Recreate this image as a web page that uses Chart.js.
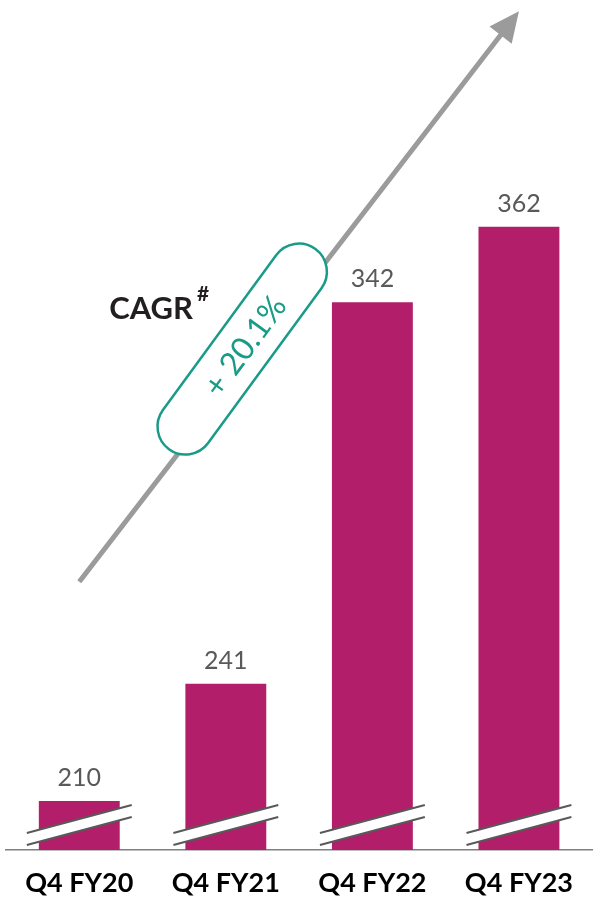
<!DOCTYPE html>
<html>
<head>
<meta charset="utf-8">
<script src="https://cdn.jsdelivr.net/npm/chart.js@4/dist/chart.umd.min.js"></script>
<style>
  html, body { margin: 0; padding: 0; background: #fff; }
  #wrap { width: 593px; height: 897px; position: relative; }
</style>
</head>
<body>
<div id="wrap"><canvas id="chart"></canvas></div>
<script>
const QUARTERS = ['Q4 FY20', 'Q4 FY21', 'Q4 FY22', 'Q4 FY23'];
const VALUES = [210, 241, 342, 362];
// axis is broken below the bars, so it does not start at zero
const AXIS_MIN = 197;
const AXIS_MAX = 422;
// trend arrow runs from the first to the last category, in axis units
const TREND_FROM = 268;
const TREND_TO = 419;
const CAGR_TEXT = 'CAGR';
const CAGR_MARK = '#';
const CAGR_VALUE = '+ 20.1%';

const BAR = '#B31E6B';
const LABEL_GREY = '#595959';
const TEAL = '#1A9B88';
const ARROW_GREY = '#9B9B9B';

Chart.defaults.font.family = 'Lato, "Open Sans", sans-serif';

// white slash across the bottom of every bar to show the axis break
const breakMarks = {
  id: 'breakMarks',
  afterDatasetsDraw(chart) {
    const { ctx, chartArea } = chart;
    const base = chartArea.bottom;
    const slope = -28 / 105;
    chart.getDatasetMeta(0).data.forEach((bar) => {
      const half = bar.width / 2 + 12;
      const xl = bar.x - half;
      const xr = bar.x + half;
      const upper = (x) => base - 31 + (x - bar.x) * slope;
      const lower = (x) => upper(x) + 12;
      ctx.save();
      ctx.fillStyle = '#fff';
      ctx.beginPath();
      ctx.moveTo(xl, upper(xl));
      ctx.lineTo(xr, upper(xr));
      ctx.lineTo(xr, lower(xr));
      ctx.lineTo(xl, lower(xl));
      ctx.closePath();
      ctx.fill();
      ctx.strokeStyle = LABEL_GREY;
      ctx.lineWidth = 2;
      ctx.beginPath();
      ctx.moveTo(xl, upper(xl));
      ctx.lineTo(xr, upper(xr));
      ctx.moveTo(xl, lower(xl));
      ctx.lineTo(xr, lower(xr));
      ctx.stroke();
      ctx.restore();
    });
  }
};

const valueLabels = {
  id: 'valueLabels',
  afterDatasetsDraw(chart) {
    const { ctx } = chart;
    const ds = chart.data.datasets[0];
    ctx.save();
    ctx.font = '25px Lato, "Open Sans", sans-serif';
    ctx.fillStyle = LABEL_GREY;
    ctx.textAlign = 'center';
    ctx.textBaseline = 'alphabetic';
    chart.getDatasetMeta(0).data.forEach((bar, i) => {
      ctx.fillText(String(ds.data[i]), bar.x, bar.y - 15);
    });
    ctx.restore();
  }
};

// growth arrow with the CAGR pill on top of it
const trendArrow = {
  id: 'trendArrow',
  afterDraw(chart) {
    const { ctx } = chart;
    const xs = chart.scales.x;
    const ys = chart.scales.y;
    const x0 = xs.getPixelForValue(0);
    const y0 = ys.getPixelForValue(TREND_FROM);
    const x1 = xs.getPixelForValue(QUARTERS.length - 1);
    const y1 = ys.getPixelForValue(TREND_TO);
    const len = Math.hypot(x1 - x0, y1 - y0);
    const ux = (x1 - x0) / len;
    const uy = (y1 - y0) / len;
    const angle = Math.atan2(y1 - y0, x1 - x0);
    const head = 30;
    const headHalf = 14;

    ctx.save();
    ctx.strokeStyle = ARROW_GREY;
    ctx.fillStyle = ARROW_GREY;
    ctx.lineWidth = 5;
    ctx.beginPath();
    ctx.moveTo(x0, y0);
    ctx.lineTo(x1 - ux * (head - 2), y1 - uy * (head - 2));
    ctx.stroke();
    const bx = x1 - ux * head;
    const by = y1 - uy * head;
    ctx.beginPath();
    ctx.moveTo(x1, y1);
    ctx.lineTo(bx + uy * headHalf, by - ux * headHalf);
    ctx.lineTo(bx - uy * headHalf, by + ux * headHalf);
    ctx.closePath();
    ctx.fill();

    // pill sits a little above-left of the arrow line
    const t = 0.394;
    const off = 13;
    const cx = x0 + (x1 - x0) * t + uy * off;
    const cy = y0 + (y1 - y0) * t - ux * off;
    const L = 248;
    const W = 56;
    ctx.translate(cx, cy);
    ctx.rotate(angle - 0.025);
    ctx.beginPath();
    ctx.roundRect(-L / 2, -W / 2, L, W, W / 2);
    ctx.fillStyle = '#fff';
    ctx.fill();
    ctx.strokeStyle = TEAL;
    ctx.lineWidth = 2.5;
    ctx.stroke();
    ctx.fillStyle = TEAL;
    ctx.font = '32px Lato, "Open Sans", sans-serif';
    ctx.textAlign = 'center';
    ctx.textBaseline = 'middle';
    ctx.fillText(CAGR_VALUE, 4, 1);
    ctx.restore();

    ctx.save();
    ctx.fillStyle = '#231F20';
    ctx.font = 'bold 31px Lato, "Open Sans", sans-serif';
    ctx.textBaseline = 'alphabetic';
    ctx.textAlign = 'left';
    const tx = cx - 133;
    const ty = cy - 30;
    ctx.fillText(CAGR_TEXT, tx, ty);
    const w = ctx.measureText(CAGR_TEXT).width;
    ctx.font = 'bold 21px Lato, "Open Sans", sans-serif';
    ctx.fillText(CAGR_MARK, tx + w + 4, ty - 18);
    ctx.restore();
  }
};

new Chart(document.getElementById('chart'), {
  type: 'bar',
  data: {
    labels: QUARTERS,
    datasets: [{
      data: VALUES,
      backgroundColor: BAR,
      borderWidth: 0,
      barPercentage: 0.552,
      categoryPercentage: 1
    }]
  },
  options: {
    responsive: true,
    maintainAspectRatio: false,
    animation: false,
    layout: { padding: { left: 6, right: 0, top: 0, bottom: -20 } },
    plugins: {
      legend: { display: false },
      tooltip: { enabled: false }
    },
    scales: {
      x: {
        grid: { display: false, drawTicks: false },
        border: { display: true, color: '#7F7F7F', width: 1.5 },
        ticks: {
          color: '#000',
          padding: 20,
          font: { size: 27, weight: 'bold', lineHeight: 1 }
        }
      },
      y: {
        display: false,
        min: AXIS_MIN,
        max: AXIS_MAX
      }
    }
  },
  plugins: [breakMarks, valueLabels, trendArrow]
});
</script>
</body>
</html>
